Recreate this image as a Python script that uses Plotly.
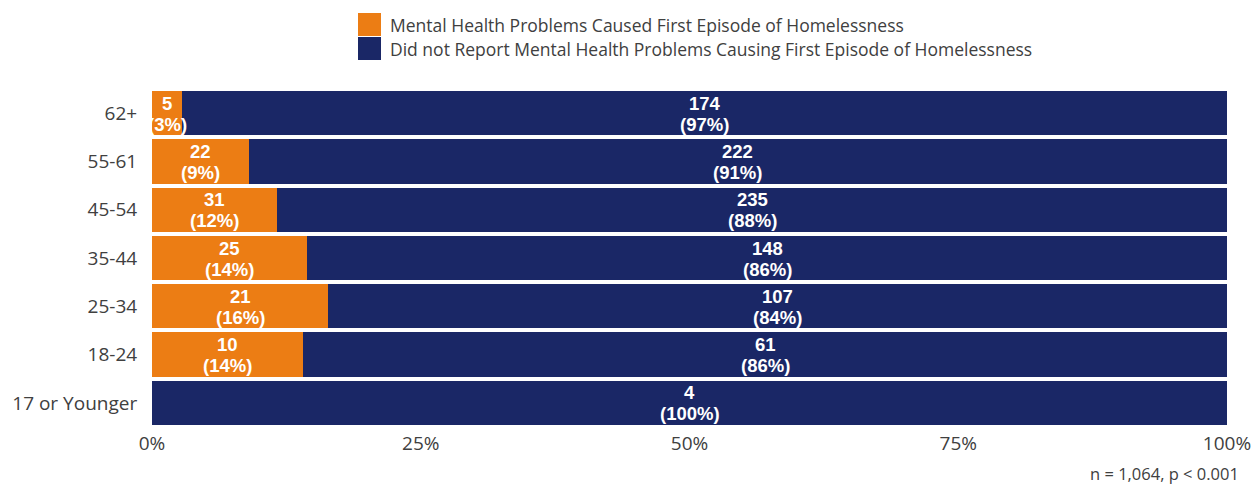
import plotly.graph_objects as go

# Age groups, listed bottom to top
age_groups = ["17 or Younger", "18-24", "25-34", "35-44", "45-54", "55-61", "62+"]
reported = [0, 10, 21, 25, 31, 22, 5]
not_reported = [4, 61, 107, 148, 235, 222, 174]

x_ticks = [0, 0.25, 0.5, 0.75, 1.0]
x_tick_labels = ["0%", "25%", "50%", "75%", "100%"]

legend_names = [
    "Mental Health Problems Caused First Episode of Homelessness",
    "Did not Report Mental Health Problems Causing First Episode of Homelessness",
]
note_text = "n = 1,064, p < 0.001"

ORANGE = "#EC7D14"
NAVY = "#1A2766"
TEXT_GRAY = "#404040"
TICK_FONT = "Open Sans, Noto Sans, sans-serif"
BAR_FONT = "Liberation Sans, Arial, sans-serif"

totals = [a + b for a, b in zip(reported, not_reported)]
share_rep = [a / t for a, t in zip(reported, totals)]
share_not = [b / t for b, t in zip(not_reported, totals)]

fig = go.Figure()
for shares, color, name in [
    (share_rep, ORANGE, legend_names[0]),
    (share_not, NAVY, legend_names[1]),
]:
    fig.add_trace(go.Bar(
        y=age_groups, x=shares, orientation="h", name=name,
        marker=dict(color=color, line=dict(width=0)),
        showlegend=False, hoverinfo="skip",
    ))

annotations = []
# Segment labels: count on top, percentage below, centred in each segment
for i, grp in enumerate(age_groups):
    segments = [(reported[i], share_rep[i], 0.0),
                (not_reported[i], share_not[i], share_rep[i])]
    for count, share, start in segments:
        if count == 0:
            continue
        mid = start + share / 2
        for txt, shift in [(f"{count}", 10), (f"({round(share * 100)}%)", -11)]:
            annotations.append(dict(
                text=f"<b>{txt}</b>", x=mid, y=grp, xref="x", yref="y",
                showarrow=False, xanchor="center", yanchor="middle",
                yshift=shift, borderpad=0,
                font=dict(family=BAR_FONT, size=18.5, color="white"),
            ))

# Legend drawn as swatches with text beside them
shapes = []
for i, (name, color) in enumerate(zip(legend_names, [ORANGE, NAVY])):
    y_top = 13 + i * 24
    shapes.append(dict(type="rect", xref="paper", yref="paper",
                       x0=(358 - 152) / 1075, x1=(381 - 152) / 1075,
                       y0=1 + (89 - y_top) / 338, y1=1 + (89 - (y_top + 23)) / 338,
                       fillcolor=color, line=dict(width=0)))
    annotations.append(dict(text=name, xref="paper", yref="paper",
                            x=(388 - 152) / 1075, y=1 + (89 - (y_top + 12)) / 338,
                            xanchor="left", yanchor="middle", showarrow=False,
                            font=dict(family=TICK_FONT, size=17.5, color=TEXT_GRAY)))

annotations.append(dict(text=note_text, xref="paper", yref="paper",
                        x=1 + (1240 - 1227) / 1075, y=-(486 - 427) / 338,
                        xanchor="right", yanchor="bottom", showarrow=False,
                        borderpad=0,
                        font=dict(family=TICK_FONT, size=16.5, color=TEXT_GRAY)))

fig.update_layout(
    barmode="stack", bargap=0.085,
    width=1255, height=487,
    margin=dict(l=152, r=28, t=89, b=60, autoexpand=False),
    plot_bgcolor="white", paper_bgcolor="white",
    xaxis=dict(range=[0, 1], tickvals=x_ticks, ticktext=x_tick_labels,
               showgrid=False, zeroline=False, showline=False, ticks="",
               automargin=False, ticklabelstandoff=3,
               tickfont=dict(family=TICK_FONT, size=19, color=TEXT_GRAY),
               fixedrange=True),
    yaxis=dict(categoryorder="array", categoryarray=age_groups,
               showgrid=False, zeroline=False, showline=False, ticks="outside",
               ticklen=10, tickcolor="rgba(0,0,0,0)", automargin=False,
               tickfont=dict(family=TICK_FONT, size=19, color=TEXT_GRAY),
               fixedrange=True),
    shapes=shapes, annotations=annotations,
)

fig.write_html("out.html")
